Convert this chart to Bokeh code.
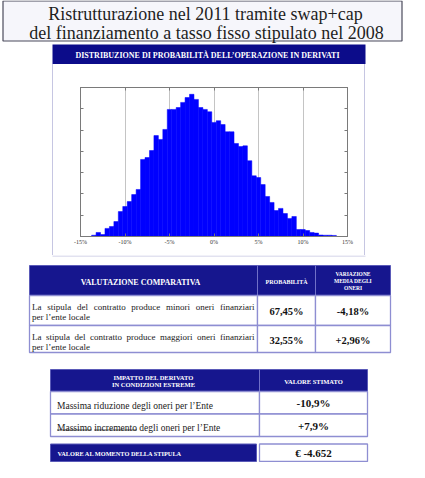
from bokeh.plotting import figure
from bokeh.layouts import column, row
from bokeh.models import Range1d, FixedTicker, LinearAxis, Spacer
from bokeh.core.properties import value
from bokeh.embed import file_html
from bokeh.resources import INLINE

# ------------------------------------------------------------------ data
title_lines = ["Ristrutturazione nel 2011 tramite swap+cap",
               "del finanziamento a tasso fisso stipulato nel 2008"]
panel_title = "DISTRIBUZIONE DI PROBABILITÀ  DELL’OPERAZIONE IN DERIVATI"

bin_width = 0.5
bin_centers = [-13.5, -13.0, -12.5, -12.0, -11.5, -11.0, -10.5, -10.0, -9.5, -9.0,
               -8.5, -8.0, -7.5, -7.0, -6.5, -6.0, -5.5, -5.0, -4.5, -4.0,
               -3.5, -3.0, -2.5, -2.0, -1.5, -1.0, -0.5, 0.0, 0.5, 1.0,
               1.5, 2.0, 2.5, 3.0, 3.5, 4.0, 4.5, 5.0, 5.5, 6.0,
               6.5, 7.0, 7.5, 8.0, 8.5, 9.0, 9.5, 10.0, 10.5, 11.0,
               11.5, 12.0, 12.5, 13.0, 13.5]
bin_counts = [6, 19, 9, 38, 47, 70, 117, 141, 164, 197,
              221, 362, 371, 404, 474, 456, 503, 597, 597, 606,
              630, 653, 668, 644, 606, 597, 586, 536, 544, 526,
              492, 492, 437, 423, 426, 356, 285, 277, 244, 188,
              160, 122, 132, 108, 85, 94, 33, 33, 28, 19,
              16, 7, 6, 6, 5]
x_ticks = [-15, -10, -5, 0, 5, 10, 15]
x_tick_labels = ["-15%", "-10%", "-5%", "0%", "5%", "10%", "15%"]
y_ticks = [0, 100, 200, 300, 400, 500, 600, 700]

cmp_header = "VALUTAZIONE COMPARATIVA"
cmp_prob_header = "PROBABILITÀ"
cmp_var_header = ["VARIAZIONE", "MEDIA DEGLI", "ONERI"]
cmp_rows = [("La stipula del contratto produce minori oneri finanziari", "per l’ente locale"),
            ("La stipula del contratto produce maggiori oneri finanziari", "per l’ente locale")]
cmp_prob = ["67,45%", "32,55%"]
cmp_var = ["-4,18%", "+2,96%"]

ext_header = ["IMPATTO DEL DERIVATO", "IN CONDIZIONI ESTREME"]
ext_value_header = "VALORE STIMATO"
ext_rows = ["Massima riduzione degli oneri per l’Ente",
            "Massimo incremento degli oneri per l’Ente"]
ext_underlined = [[], ["Massimo", "incremento"]]
ext_values = ["-10,9%", "+7,9%"]
stipula_label = "VALORE AL MOMENTO DELLA STIPULA"
stipula_value = "€ -4.652"

# ------------------------------------------------------------------ style
SERIF = value("Liberation Serif")
NAVY = "#0c0c8a"
NAVY_T = "#16168e"
CELL_LINE = "#8e8ed2"
PANEL_LINE = "#c6c6e2"
TXT = "#1a1a1a"
BAR = "#0000ff"

# Times / Liberation Serif regular advance widths (per 1000 em), used for layout
TNR = {' ': 250, '’': 333, "'": 180, '+': 564, ',': 250, '-': 333, '.': 250, '%': 833,
       'A': 722, 'B': 667, 'C': 667, 'D': 722, 'E': 611, 'F': 556, 'G': 722, 'H': 722,
       'I': 333, 'L': 611, 'M': 889, 'N': 722, 'O': 722, 'P': 556, 'R': 667, 'S': 556,
       'T': 611, 'U': 722, 'V': 722, 'Z': 611,
       'a': 444, 'b': 500, 'c': 444, 'd': 500, 'e': 444, 'f': 333, 'g': 500, 'h': 500,
       'i': 278, 'j': 278, 'k': 500, 'l': 278, 'm': 778, 'n': 500, 'o': 500, 'p': 500,
       'q': 500, 'r': 333, 's': 389, 't': 278, 'u': 500, 'v': 500, 'w': 722, 'x': 500,
       'y': 500, 'z': 444}


def text_w(s, size):
    return sum(TNR.get(c, 500) for c in s) * size / 1000.0


def canvas(w, h, x0, y0):
    p = figure(width=w, height=h, x_range=Range1d(x0, x0 + w), y_range=Range1d(y0 + h, y0),
               x_axis_type=None, y_axis_type=None, output_backend="svg",
               toolbar_location=None, min_border=0)
    p.outline_line_color = None
    p.background_fill_color = "white"
    p.border_fill_color = "white"
    return p


def txt(p, x, y, s, size, color=TXT, bold=False, align="center", baseline="middle"):
    p.text(x=[x], y=[y], text=[s], text_font=SERIF, text_font_size=f"{size}px",
           text_color=color, text_font_style="bold" if bold else "normal",
           text_align=align, text_baseline=baseline)


def box(p, l, r, t, b, fill, line=None, lw=1.0):
    p.quad(left=[l], right=[r], top=[t], bottom=[b], fill_color=fill,
           line_color=line, line_width=lw)


def justified(p, x0, x1, y, s, size):
    words = s.split(" ")
    widths = [text_w(wd, size) for wd in words]
    gap = (x1 - x0 - sum(widths)) / (len(words) - 1)
    x = x0
    for wd, ww in zip(words, widths):
        txt(p, x, y, wd, size, align="left", baseline="alphabetic")
        x += ww + gap


# ------------------------------------------------------------------ top: title + panel header
top = canvas(409, 64, 8, 8)
box(top, 10.5, 409.5, 8.5, 48.5, "#f6f6fb", "#4b4b5c", 1.2)
txt(top, 213, 21, title_lines[0], 18, color="#1e1e1e", baseline="alphabetic")
txt(top, 214, 40.5, title_lines[1], 18, color="#1e1e1e", baseline="alphabetic")
box(top, 60, 373, 52, 72, NAVY)
txt(top, 216, 62.5, panel_title, 8, color="white", bold=True)

# ------------------------------------------------------------------ histogram
hist = figure(width=311, height=191, x_range=Range1d(-15, 15), y_range=Range1d(0, 700),
              output_backend="svg", toolbar_location=None,
              min_border_left=27, min_border_right=17, min_border_top=23, min_border_bottom=19)
hist.vbar(x=bin_centers, width=bin_width, top=bin_counts, bottom=0,
          fill_color=BAR, line_color=BAR, line_width=0.5)
hist.add_layout(LinearAxis(), "above")
hist.add_layout(LinearAxis(), "right")
for ax in hist.xaxis:
    ax.ticker = FixedTicker(ticks=x_ticks)
for ax in hist.yaxis:
    ax.ticker = FixedTicker(ticks=y_ticks)
for ax in hist.axis:
    ax.axis_line_color = "#7a7a7a"
    ax.major_tick_line_color = "#7a7a7a"
    ax.major_tick_in = 3
    ax.major_tick_out = 0
    ax.minor_tick_line_color = None
    ax.major_label_text_font_size = "0px"
    ax.major_label_standoff = 0
bx = hist.below[0]
bx.major_label_overrides = {t: l for t, l in zip(x_ticks, x_tick_labels)}
bx.major_label_text_font_size = "6px"
bx.major_label_text_font = "Liberation Serif"
bx.major_label_text_color = "#333333"
bx.major_label_standoff = 2
hist.xgrid.ticker = FixedTicker(ticks=x_ticks)
hist.xgrid.grid_line_color = "#c4c4c4"
hist.ygrid.grid_line_color = None
hist.outline_line_color = "#7a7a7a"

# ------------------------------------------------------------------ tables
tab = canvas(409, 207, 8, 263)
tab.segment(x0=[60], y0=[263.5], x1=[373], y1=[263.5], line_color=PANEL_LINE, line_width=1)

# table 1: valutazione comparativa
c1 = [37, 265, 323, 398]
r1 = [303, 333, 360]
box(tab, c1[0], c1[-1], 273, r1[0], NAVY_T, "#5a5ab8", 1)
tab.segment(x0=c1[1:3], y0=[273, 273], x1=c1[1:3], y1=[r1[0], r1[0]],
            line_color="#7070c8", line_width=1)
tab.quad(left=[c1[i] for _ in range(2) for i in range(3)],
         right=[c1[i + 1] for _ in range(2) for i in range(3)],
         top=[r1[j] for j in range(2) for _ in range(3)],
         bottom=[r1[j + 1] for j in range(2) for _ in range(3)],
         fill_color="white", line_color=CELL_LINE, line_width=1.3)
txt(tab, 148, 289.5, cmp_header, 8, color="white", bold=True)
txt(tab, 294, 289.5, cmp_prob_header, 6, color="white", bold=True)
for k, s in enumerate(cmp_var_header):
    txt(tab, 360.5, 281 + 7.2 * k, s, 5.5, color="white", bold=True)
for j, (l1, l2) in enumerate(cmp_rows):
    ytop = r1[j]
    justified(tab, 39.5, 262, ytop + 11.5, l1, 9)
    txt(tab, 39.5, ytop + 21.5, l2, 9, align="left", baseline="alphabetic")
    ymid = (r1[j] + r1[j + 1]) / 2
    txt(tab, 294, ymid + 1, cmp_prob[j], 10.5, color="#111111", bold=True)
    txt(tab, 360.5, ymid + 1, cmp_var[j], 10.5, color="#111111", bold=True)

# table 2: impatto in condizioni estreme
c2 = [58, 267, 375]
r2 = [399, 421.5, 444]
box(tab, c2[0], c2[-1], 377, r2[0], NAVY_T, "#5a5ab8", 1)
tab.segment(x0=[c2[1]], y0=[377], x1=[c2[1]], y1=[r2[0]], line_color="#7070c8", line_width=1)
tab.quad(left=[c2[i] for _ in range(2) for i in range(2)],
         right=[c2[i + 1] for _ in range(2) for i in range(2)],
         top=[r2[j] for j in range(2) for _ in range(2)],
         bottom=[r2[j + 1] for j in range(2) for _ in range(2)],
         fill_color="white", line_color=CELL_LINE, line_width=1.3)
txt(tab, 161, 384.5, ext_header[0], 6.5, color="white", bold=True)
txt(tab, 161, 392, ext_header[1], 6.5, color="white", bold=True)
txt(tab, 321, 388.5, ext_value_header, 6.5, color="white", bold=True)
for j, s in enumerate(ext_rows):
    ymid = (r2[j] + r2[j + 1]) / 2
    base = ymid + 3.2
    txt(tab, 64.5, base, s, 9.5, align="left", baseline="alphabetic")
    x = 64.5
    for wd in s.split(" "):
        ww = text_w(wd, 9.5)
        if wd in ext_underlined[j]:
            tab.segment(x0=[x], y0=[base + 1.5], x1=[x + ww], y1=[base + 1.5],
                        line_color=TXT, line_width=0.7)
        x += ww + text_w(" ", 9.5)
    txt(tab, 321, ymid + 0.5, ext_values[j], 11, color="#111111", bold=True)

# valore al momento della stipula
box(tab, 58, 264, 451.5, 469, NAVY_T, "#5a5ab8", 1)
box(tab, 267, 375, 451.5, 469, "white", CELL_LINE, 1.3)
txt(tab, 65, 460.5, stipula_label, 6.3, color="white", bold=True, align="left")
txt(tab, 321, 460.5, stipula_value, 11, color="#111111", bold=True)

edge = {"background-color": PANEL_LINE}
layout = column(top,
                row(Spacer(width=52, height=191),
                    Spacer(width=1, height=191, styles=edge),
                    hist,
                    Spacer(width=1, height=191, styles=edge),
                    Spacer(width=44, height=191)),
                tab)

open("out.html", "w").write(file_html(layout, INLINE))
